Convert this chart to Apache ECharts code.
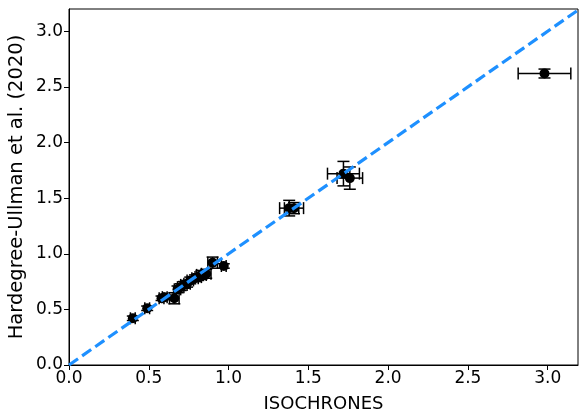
<!DOCTYPE html>
<html>
<head>
<meta charset="utf-8">
<script src="https://cdn.jsdelivr.net/npm/echarts@6/dist/echarts.min.js"></script>
<style>html,body{margin:0;padding:0;background:#fff}#c{width:579px;height:412px}</style>
</head>
<body>
<div id="c"></div>
<script>
// Data
const isoX   = [0.40, 0.49, 0.58, 0.60, 0.66, 0.68, 0.70, 0.72, 0.74, 0.76, 0.79, 0.81, 0.83, 0.86, 0.90, 0.97, 1.38, 1.41, 1.72, 1.76, 2.98];
const hguY   = [0.42, 0.51, 0.60, 0.61, 0.60, 0.68, 0.70, 0.72, 0.73, 0.76, 0.78, 0.79, 0.81, 0.82, 0.92, 0.89, 1.41, 1.41, 1.72, 1.68, 2.62];
const isoErr = [0.015,0.015,0.015,0.015,0.03, 0.02, 0.02, 0.02, 0.02, 0.02, 0.02, 0.02, 0.03, 0.03, 0.03, 0.015,0.06, 0.06, 0.10, 0.08, 0.165];
const hguErr = [0.02, 0.02, 0.02, 0.02, 0.05, 0.03, 0.03, 0.03, 0.03, 0.03, 0.03, 0.03, 0.04, 0.04, 0.05, 0.02, 0.07, 0.05, 0.11, 0.10, 0.04];
const oneToOne = [[0, 0], [3.2, 3.2]];
const xTicks = [0.0, 0.5, 1.0, 1.5, 2.0, 2.5, 3.0];
const yTicks = [0.0, 0.5, 1.0, 1.5, 2.0, 2.5, 3.0];

const pts = isoX.map((x, i) => [x, hguY[i]]);
const errData = isoX.map((x, i) => [x, hguY[i], isoErr[i], hguErr[i]]);

const chart = echarts.init(document.getElementById('c'), null, {renderer: 'canvas'});
const font = "DejaVu Sans";
const CAP = 6;

function renderErr(params, api) {
  const x = api.value(0), y = api.value(1), ex = api.value(2), ey = api.value(3);
  const l = api.coord([x - ex, y]), r = api.coord([x + ex, y]);
  const b = api.coord([x, y - ey]), t = api.coord([x, y + ey]);
  const st = {stroke: '#000', lineWidth: 1.5};
  return {
    type: 'group',
    children: [
      {type: 'line', shape: {x1: l[0], y1: l[1], x2: r[0], y2: r[1]}, style: st},
      {type: 'line', shape: {x1: l[0], y1: l[1] - CAP, x2: l[0], y2: l[1] + CAP}, style: st},
      {type: 'line', shape: {x1: r[0], y1: r[1] - CAP, x2: r[0], y2: r[1] + CAP}, style: st},
      {type: 'line', shape: {x1: b[0], y1: b[1], x2: t[0], y2: t[1]}, style: st},
      {type: 'line', shape: {x1: b[0] - CAP, y1: b[1], x2: b[0] + CAP, y2: b[1]}, style: st},
      {type: 'line', shape: {x1: t[0] - CAP, y1: t[1], x2: t[0] + CAP, y2: t[1]}, style: st}
    ]
  };
}

const axisCommon = {
  type: 'value',
  interval: 0.5,
  min: 0,
  splitLine: {show: false},
  axisLine: {show: true, onZero: false, lineStyle: {color: '#000', width: 1}},
  axisTick: {show: true, inside: false, length: 5, lineStyle: {color: '#000', width: 1}},
  nameLocation: 'middle',
  nameMoveOverlap: false,
  nameTextStyle: {color: '#000', fontFamily: font}
};

chart.setOption({
  animation: false,
  backgroundColor: '#fff',
  grid: {left: 69, right: 1, top: 9, bottom: 47, show: true, borderColor: '#000', borderWidth: 1,
    backgroundColor: 'transparent', containLabel: false, outerBoundsMode: 'none'},
  xAxis: Object.assign({}, axisCommon, {
    max: 3.19,
    name: 'ISOCHRONES',
    nameGap: 30,
    nameTextStyle: {color: '#000', fontFamily: font, fontSize: 18},
    axisTick: Object.assign({}, axisCommon.axisTick, {customValues: xTicks}),
    axisLabel: {color: '#000', fontFamily: font, fontSize: 17, margin: 5, customValues: xTicks,
      formatter: v => v.toFixed(1)}
  }),
  yAxis: Object.assign({}, axisCommon, {
    max: 3.2,
    name: 'Hardegree-Ullman et al. (2020)',
    nameGap: 42,
    nameTextStyle: {color: '#000', fontFamily: font, fontSize: 19.5},
    axisTick: Object.assign({}, axisCommon.axisTick, {customValues: yTicks}),
    axisLabel: {color: '#000', fontFamily: font, fontSize: 17, margin: 6, customValues: yTicks,
      formatter: v => v.toFixed(1)}
  }),
  series: [
    {
      type: 'custom',
      renderItem: renderErr,
      data: errData,
      encode: {x: 0, y: 1},
      z: 2,
      silent: true
    },
    {
      type: 'scatter',
      data: pts,
      symbol: 'circle',
      symbolSize: 10,
      itemStyle: {color: '#000', opacity: 1},
      z: 3,
      silent: true
    },
    {
      type: 'line',
      data: oneToOne,
      showSymbol: false,
      clip: true,
      lineStyle: {color: '#1E90FF', width: 3.2, type: [11, 5]},
      z: 4,
      silent: true
    }
  ]
});
</script>
</body>
</html>
